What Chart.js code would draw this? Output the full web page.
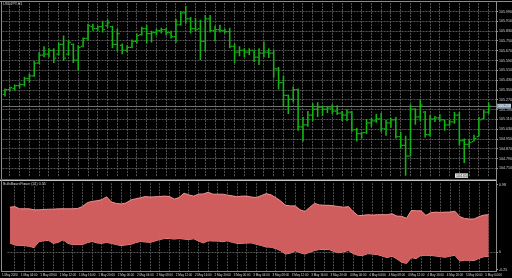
<!DOCTYPE html>
<html>
<head>
<meta charset="utf-8">
<script src="https://cdn.jsdelivr.net/npm/chart.js@4"></script>
<style>
  html, body { margin: 0; padding: 0; background: #000; }
  body { width: 512px; height: 278px; position: relative; overflow: hidden; }
  #price { position: absolute; left: 0; top: 0; }
  #power { position: absolute; left: 0; top: 180px; }
</style>
</head>
<body>
<canvas id="price" width="512" height="180"></canvas>
<canvas id="power" width="512" height="98"></canvas>
<script>
const symbolTitle = "USDJPY,H1";
const powerTitle = "BullsBearsPower (21) 0.55";

// one label every 4 bars (bars 0, 4, ... 100)
const timeLabels = [
  "1 May 2020", "1 May 04:00", "1 May 08:00", "1 May 12:00", "1 May 16:00", "1 May 20:00",
  "2 May 00:00", "2 May 04:00", "2 May 08:00", "2 May 12:00", "2 May 16:00", "2 May 20:00",
  "3 May 00:00", "3 May 04:00", "3 May 08:00", "3 May 12:00", "3 May 16:00", "3 May 20:00",
  "4 May 00:00", "4 May 04:00", "4 May 08:00", "4 May 12:00", "4 May 16:00", "4 May 20:00",
  "5 May 00:00", "5 May 04:00"
];

const openPrices = [
  105.314, 105.354, 105.362, 105.386, 105.394, 105.442, 105.466, 105.570, 105.634, 105.642,
  105.674, 105.642, 105.722, 105.642, 105.722, 105.594, 105.706, 105.770, 105.866, 105.850,
  105.866, 105.874, 105.866, 105.722, 105.714, 105.674, 105.698, 105.746, 105.802, 105.850,
  105.810, 105.818, 105.834, 105.842, 105.818, 105.786, 105.882, 105.978, 105.930, 105.850,
  105.850, 105.746, 105.930, 105.834, 105.842, 105.834, 105.826, 105.706, 105.658, 105.674,
  105.658, 105.674, 105.618, 105.650, 105.658, 105.650, 105.522, 105.410, 105.306, 105.274,
  105.354, 105.050, 105.066, 105.146, 105.194, 105.210, 105.194, 105.202, 105.178, 105.162,
  105.146, 105.170, 105.026, 104.994, 105.002, 105.082, 105.098, 105.114, 105.034, 105.082,
  105.106, 104.970, 104.898, 104.810, 105.194, 105.130, 105.170, 104.986, 105.114, 105.122,
  105.106, 105.066, 105.090, 105.146, 104.938, 104.906, 104.930, 104.970, 105.114, 105.170
];
const highPrices = [
  105.362, 105.378, 105.394, 105.410, 105.458, 105.482, 105.586, 105.658, 105.706, 105.690,
  105.690, 105.738, 105.794, 105.754, 105.730, 105.714, 105.778, 105.890, 105.890, 105.874,
  105.914, 105.922, 105.874, 105.850, 105.730, 105.714, 105.762, 105.810, 105.866, 105.882,
  105.834, 105.850, 105.858, 105.858, 105.834, 105.930, 105.994, 106.034, 105.946, 105.938,
  105.922, 105.962, 105.962, 105.874, 105.882, 105.850, 105.858, 105.730, 105.706, 105.690,
  105.690, 105.674, 105.690, 105.746, 105.690, 105.674, 105.538, 105.466, 105.314, 105.378,
  105.362, 105.130, 105.178, 105.242, 105.250, 105.218, 105.218, 105.234, 105.226, 105.178,
  105.194, 105.178, 105.042, 105.010, 105.114, 105.122, 105.154, 105.162, 105.106, 105.122,
  105.130, 105.010, 104.978, 105.234, 105.202, 105.274, 105.178, 105.146, 105.138, 105.154,
  105.106, 105.106, 105.170, 105.170, 104.954, 104.946, 104.986, 105.130, 105.186, 105.250
];
const lowPrices = [
  105.298, 105.338, 105.346, 105.362, 105.378, 105.410, 105.458, 105.562, 105.618, 105.618,
  105.570, 105.634, 105.586, 105.634, 105.570, 105.506, 105.698, 105.754, 105.834, 105.834,
  105.818, 105.858, 105.690, 105.666, 105.642, 105.658, 105.690, 105.730, 105.794, 105.730,
  105.738, 105.794, 105.810, 105.794, 105.770, 105.738, 105.874, 105.890, 105.810, 105.826,
  105.594, 105.666, 105.818, 105.746, 105.818, 105.810, 105.690, 105.570, 105.626, 105.618,
  105.634, 105.578, 105.554, 105.618, 105.610, 105.450, 105.354, 105.210, 105.154, 105.250,
  105.018, 104.930, 105.050, 105.098, 105.130, 105.138, 105.162, 105.154, 105.146, 105.098,
  105.098, 105.010, 104.930, 104.954, 104.994, 105.050, 105.082, 105.010, 104.978, 105.042,
  104.954, 104.874, 104.650, 104.810, 105.066, 105.098, 104.962, 104.970, 105.090, 105.090,
  105.018, 105.058, 105.074, 104.898, 104.754, 104.882, 104.930, 104.970, 105.114, 105.154
];
const closePrices = [
  105.354, 105.370, 105.386, 105.394, 105.442, 105.466, 105.570, 105.634, 105.642, 105.674,
  105.610, 105.722, 105.610, 105.738, 105.594, 105.698, 105.770, 105.874, 105.850, 105.866,
  105.842, 105.898, 105.722, 105.810, 105.674, 105.698, 105.746, 105.794, 105.850, 105.810,
  105.818, 105.834, 105.842, 105.818, 105.786, 105.882, 105.978, 105.930, 105.850, 105.842,
  105.746, 105.930, 105.834, 105.842, 105.834, 105.826, 105.706, 105.658, 105.674, 105.658,
  105.674, 105.618, 105.650, 105.658, 105.650, 105.522, 105.410, 105.306, 105.274, 105.354,
  105.050, 105.066, 105.146, 105.194, 105.210, 105.194, 105.202, 105.178, 105.162, 105.146,
  105.170, 105.026, 104.994, 105.002, 105.082, 105.098, 105.114, 105.034, 105.082, 105.106,
  104.970, 104.898, 104.810, 105.194, 105.130, 105.226, 104.986, 105.114, 105.122, 105.106,
  105.066, 105.090, 105.146, 104.938, 104.906, 104.922, 104.954, 105.106, 105.170, 105.218
];

const priceTicks = [
  105.990, 105.910, 105.830, 105.750, 105.670, 105.590, 105.510, 105.430, 105.350,
  105.270, 105.190, 105.110, 105.030, 104.950, 104.870, 104.790, 104.710
];

const powerUpper = [
  0.652, 0.662, 0.630, 0.630, 0.630, 0.615, 0.615, 0.620, 0.624, 0.624,
  0.630, 0.630, 0.630, 0.630, 0.634, 0.662, 0.718, 0.737, 0.746, 0.761,
  0.803, 0.728, 0.708, 0.700, 0.714, 0.756, 0.775, 0.789, 0.807, 0.799,
  0.803, 0.807, 0.813, 0.807, 0.770, 0.793, 0.855, 0.831, 0.813, 0.841,
  0.845, 0.869, 0.841, 0.841, 0.841, 0.827, 0.817, 0.803, 0.813, 0.813,
  0.799, 0.793, 0.821, 0.849, 0.831, 0.789, 0.742, 0.680, 0.672, 0.672,
  0.615, 0.592, 0.652, 0.708, 0.686, 0.680, 0.680, 0.672, 0.662, 0.652,
  0.662, 0.587, 0.531, 0.535, 0.545, 0.539, 0.545, 0.545, 0.545, 0.559,
  0.525, 0.521, 0.493, 0.606, 0.601, 0.601, 0.535, 0.573, 0.582, 0.577,
  0.582, 0.582, 0.596, 0.517, 0.489, 0.483, 0.483, 0.517, 0.539, 0.545
];
const powerLower = [
  0.137, 0.108, 0.099, 0.099, 0.089, 0.070, 0.155, 0.169, 0.173, 0.131,
  0.145, 0.183, 0.131, 0.113, 0.113, 0.113, 0.141, 0.159, 0.137, 0.131,
  0.145, 0.131, 0.113, 0.099, 0.108, 0.117, 0.141, 0.159, 0.151, 0.145,
  0.165, 0.187, 0.201, 0.201, 0.193, 0.201, 0.193, 0.187, 0.197, 0.165,
  0.137, 0.169, 0.165, 0.165, 0.155, 0.169, 0.145, 0.131, 0.131, 0.137,
  0.137, 0.117, 0.099, 0.080, 0.075, 0.056, 0.024, -0.024, -0.010, 0.024,
  -0.004, -0.024, 0.004, 0.028, 0.042, 0.042, 0.042, 0.014, -0.004, 0.010,
  0.028, -0.018, -0.042, -0.042, -0.018, -0.024, -0.032, -0.052, -0.075, -0.052,
  -0.094, -0.141, -0.159, -0.075, -0.089, -0.042, -0.042, -0.042, -0.052, -0.061,
  -0.070, -0.052, -0.042, -0.123, -0.113, -0.113, -0.117, -0.085, -0.061, -0.056
];
const powerTicks = [0.98, 0, -0.25];

// ---- look ----
const gridColor = "#555555";
const frameColor = "#8c8c8c";
const textColor = "#d4d4d4";
const barColor = "#14b414";
const smallFont = { family: "'Liberation Sans Narrow', 'Liberation Sans', sans-serif", size: 3 };

Chart.defaults.font.family = "'Liberation Sans', Arial, sans-serif";
Chart.defaults.font.size = 3.6;
Chart.defaults.color = textColor;

// one empty slot after the last bar (chart shift)
const slots = highPrices.length + 1;
const categories = Array.from({ length: slots }, (_, i) => (i % 4 === 0 ? timeLabels[i / 4] : ""));

const half = 0.005;
const openMarks = openPrices.map((v) => [v - half, v + half]);
const closeMarks = closePrices.map((v) => [v - half, v + half]);
const ranges = lowPrices.map((v, i) => [v, highPrices[i]]);
const lastClose = closePrices[closePrices.length - 1];
const lowest = Math.min(...lowPrices);

const oddGrid = (ctx) => (ctx.index % 2 === 1 ? gridColor : "transparent");

const priceFrame = {
  id: "priceFrame",
  beforeDatasetsDraw(chart) {
    const { ctx, chartArea: a, scales } = chart;
    const y = Math.round(scales.y.getPixelForValue(lastClose)) + 0.5;
    ctx.save();
    ctx.strokeStyle = "#707070";
    ctx.lineWidth = 1;
    ctx.beginPath();
    ctx.moveTo(a.left, y);
    ctx.lineTo(a.right, y);
    ctx.stroke();
    ctx.restore();
  },
  afterDraw(chart) {
    const { ctx, chartArea: a, scales } = chart;
    ctx.save();
    ctx.strokeStyle = frameColor;
    ctx.lineWidth = 1;
    ctx.beginPath();
    ctx.moveTo(0, 1.5);
    ctx.lineTo(512, 1.5);
    ctx.moveTo(1.5, 1);
    ctx.lineTo(1.5, 180);
    ctx.moveTo(a.right + 0.5, 1);
    ctx.lineTo(a.right + 0.5, 180);
    ctx.stroke();
    ctx.strokeStyle = "#5a5a5a";
    ctx.beginPath();
    ctx.moveTo(0, 179.5);
    ctx.lineTo(a.right, 179.5);
    ctx.stroke();

    ctx.font = "3.6px 'Liberation Sans', Arial, sans-serif";
    ctx.fillStyle = textColor;
    ctx.textBaseline = "middle";
    ctx.textAlign = "left";
    ctx.fillText(symbolTitle, 3, 4);

    // current price box
    const y = scales.y.getPixelForValue(lastClose);
    ctx.fillStyle = "#8596ae";
    ctx.fillRect(a.right + 1, y - 2.5, 14, 5);
    ctx.fillStyle = "#ffffff";
    ctx.fillText(lastClose.toFixed(3), a.right + 2, y);

    // lowest price marker
    const lowY = scales.y.getPixelForValue(lowest);
    ctx.fillStyle = "#e4e4e4";
    ctx.fillRect(455, lowY - 2.5, 13, 4.5);
    ctx.fillStyle = "#303030";
    ctx.fillText(lowest.toFixed(3), 456, lowY - 0.3);
    ctx.restore();
  }
};

new Chart(document.getElementById("price"), {
  type: "bar",
  data: {
    labels: categories,
    datasets: [
      { label: "open", data: openMarks, backgroundColor: barColor },
      { label: "range", data: ranges, backgroundColor: barColor },
      { label: "close", data: closeMarks, backgroundColor: barColor },
    ],
  },
  options: {
    responsive: false,
    animation: false,
    devicePixelRatio: 1,
    layout: { padding: { left: 2.5, top: 2, right: 0, bottom: 1 } },
    datasets: { bar: { categoryPercentage: 0.96, barPercentage: 1, borderWidth: 0 } },
    plugins: { legend: { display: false }, tooltip: { enabled: false } },
    scales: {
      x: {
        offset: true,
        grid: { offset: false, color: oddGrid, drawTicks: false },
        border: { display: false, dash: [2, 1] },
        ticks: { display: false, autoSkip: false },
        afterFit: (scale) => { scale.height = 0; },
      },
      y: {
        position: "right",
        min: 104.642,
        max: 106.058,
        afterBuildTicks: (scale) => { scale.ticks = priceTicks.map((v) => ({ value: v })); },
        afterFit: (scale) => { scale.width = 16; },
        grid: { color: gridColor, tickColor: "#9a9a9a", tickLength: 2 },
        border: { display: false, dash: [2, 1] },
        ticks: { padding: 1, color: textColor, callback: (v) => Number(v).toFixed(3) },
      },
    },
  },
  plugins: [priceFrame],
});

const powerFrame = {
  id: "powerFrame",
  afterDraw(chart) {
    const { ctx, chartArea: a } = chart;
    ctx.save();
    ctx.lineWidth = 1;
    ctx.strokeStyle = "#c4c4c4";
    ctx.beginPath();
    ctx.moveTo(0, 0.5);
    ctx.lineTo(a.right + 1, 0.5);
    ctx.stroke();
    ctx.strokeStyle = frameColor;
    ctx.beginPath();
    ctx.moveTo(1.5, 0);
    ctx.lineTo(1.5, a.bottom + 1);
    ctx.moveTo(a.right + 0.5, 0);
    ctx.lineTo(a.right + 0.5, a.bottom + 1);
    ctx.moveTo(1, a.bottom + 0.5);
    ctx.lineTo(a.right + 1, a.bottom + 0.5);
    ctx.stroke();
    ctx.font = "3.6px 'Liberation Sans', Arial, sans-serif";
    ctx.fillStyle = textColor;
    ctx.textBaseline = "middle";
    ctx.fillText(powerTitle, 3, 4);
    ctx.restore();
  }
};

new Chart(document.getElementById("power"), {
  type: "line",
  data: {
    labels: categories,
    datasets: [
      {
        label: "upper",
        data: powerUpper,
        borderColor: "#f39090",
        backgroundColor: "rgba(214, 96, 96, 0.97)",
        fill: "+1",
      },
      {
        label: "lower",
        data: powerLower,
        borderColor: "#f39090",
        fill: false,
      },
    ],
  },
  options: {
    responsive: false,
    animation: false,
    devicePixelRatio: 1,
    layout: { padding: { left: 2.5, top: 1, right: 0, bottom: 0 } },
    elements: { point: { radius: 0 }, line: { borderWidth: 1, tension: 0 } },
    plugins: { legend: { display: false }, tooltip: { enabled: false } },
    scales: {
      x: {
        offset: true,
        z: 1,
        grid: {
          offset: false,
          drawTicks: false,
          color: (ctx) => (ctx.index % 2 === 1 ? "rgba(255,255,255,0.3)" : "transparent"),
        },
        border: { display: false, dash: [2, 1] },
        ticks: { autoSkip: false, maxRotation: 0, minRotation: 0, padding: 2, color: textColor, font: smallFont },
        afterFit: (scale) => { scale.height = 7; },
      },
      y: {
        position: "right",
        min: -0.268,
        max: 1.0,
        afterBuildTicks: (scale) => { scale.ticks = powerTicks.map((v) => ({ value: v })); },
        afterFit: (scale) => { scale.width = 16; },
        grid: {
          color: (ctx) => (ctx.tick && ctx.tick.value === 0 ? gridColor : "transparent"),
          tickColor: "#9a9a9a",
          tickLength: 2,
        },
        border: { display: false, dash: [2, 1] },
        ticks: { padding: 1, color: textColor, callback: (v) => (v === 0 ? "0" : Number(v).toFixed(2)) },
      },
    },
  },
  plugins: [powerFrame],
});
</script>
</body>
</html>
